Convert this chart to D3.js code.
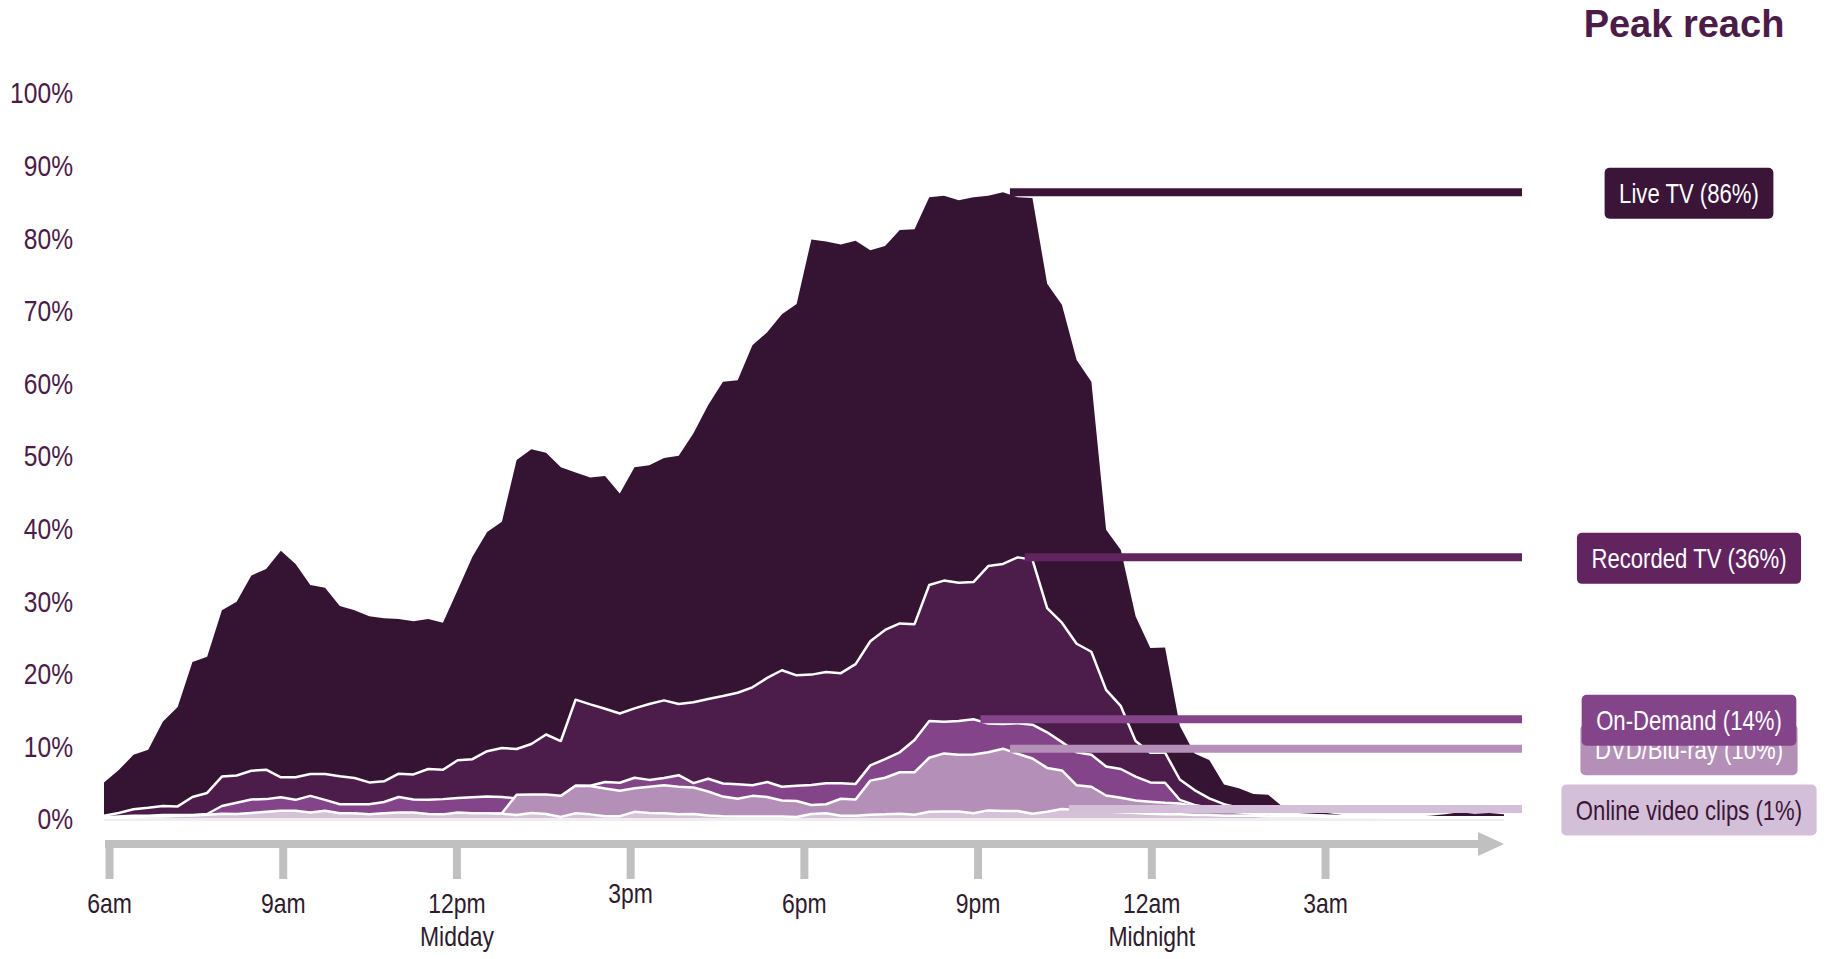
<!DOCTYPE html>
<html><head><meta charset="utf-8">
<script src="https://cdn.jsdelivr.net/npm/d3@7"></script>
<style>
html,body{margin:0;padding:0;background:#fff;}
svg{display:block;}
</style></head>
<body>
<svg id="chart" width="1835" height="959"></svg>
<script>
// ---------------- DATA ----------------
const seriesNames = ["Live TV", "Recorded TV", "On-Demand", "DVD/Blu-ray", "Online video clips"];
const peakLabels = [86, 36, 14, 10, 1];
// quarter-hour slots from 6:00am to 5:45am next day, as hours after 6am
const slotHours = d3.range(96).map(i => i * 0.25);

const liveTV = [4.9, 6.6, 8.7, 9.4, 13.3, 15.3, 21.5, 22.2, 28.6, 29.8,
  33.4, 34.3, 36.8, 35.0, 32.1, 31.7, 29.2, 28.6, 27.8, 27.5,
  27.4, 27.1, 27.4, 26.9, 31.4, 36.0, 39.4, 40.8, 49.3, 50.8,
  50.3, 48.3, 47.6, 46.9, 47.1, 44.7, 48.3, 48.6, 49.6, 49.9,
  53.0, 56.9, 60.1, 60.3, 65.1, 66.9, 69.4, 70.8, 79.7, 79.4,
  79.0, 79.5, 78.2, 78.8, 81.0, 81.1, 85.5, 85.7, 85.1, 85.5,
  85.7, 86.2, 85.5, 85.4, 73.6, 70.7, 63.1, 60.1, 39.7, 36.9,
  27.8, 23.4, 23.5, 12.7, 8.9, 8.0, 4.6, 4.1, 3.3, 3.2,
  1.5, 1.2, 0.9, 0.7, 0.4, 0.2, 0.2, 0.1, 0.2, 0.2,
  0.3, 0.5, 0.8, 0.6, 0.7, 0.5];

const recordedTV = [0.3, 0.7, 1.2, 1.4, 1.65, 1.6, 2.9, 3.45, 5.7, 5.85,
  6.5, 6.65, 5.6, 5.6, 6.05, 6.05, 5.75, 5.5, 4.9, 5.05,
  6.1, 6.0, 6.75, 6.65, 7.95, 8.1, 9.2, 9.65, 9.5, 10.2,
  11.5, 10.6, 16.3, 15.65, 15.05, 14.4, 15.1, 15.7, 16.2, 15.7,
  15.95, 16.4, 16.8, 17.25, 18.0, 19.3, 20.35, 19.65, 19.75, 20.1,
  19.95, 21.2, 24.35, 25.9, 26.8, 26.7, 32.1, 32.7, 32.4, 32.5,
  34.7, 35.0, 35.9, 35.6, 28.9, 26.9, 24.0, 22.9, 17.65, 15.4,
  10.6, 9.0, 9.0, 5.3, 3.85, 2.7, 1.9, 1.4, 1.0, 0.8,
  0.6, 0.5, 0.4, 0.3, 0.25, 0.2, 0.2, 0.15, 0.15, 0.1,
  0.1, 0.1, 0.1, 0.1, 0.1, 0.1];

const onDemand = [0.1, 0.2, 0.3, 0.3, 0.4, 0.4, 0.4, 0.55, 1.65, 2.1,
  2.55, 2.6, 2.85, 2.5, 3.05, 2.5, 1.9, 1.9, 1.9, 2.2,
  2.9, 2.55, 2.5, 2.6, 2.75, 2.85, 2.95, 2.9, 2.7, 2.8,
  2.9, 3.0, 4.45, 4.45, 4.95, 4.85, 5.55, 5.25, 5.5, 5.9,
  4.8, 5.4, 4.75, 4.65, 4.5, 4.95, 4.3, 4.45, 4.55, 4.8,
  4.8, 4.7, 7.25, 8.1, 9.05, 10.75, 13.35, 13.25, 13.35, 13.6,
  13.0, 12.95, 13.05, 12.85, 11.8, 10.45, 9.05, 8.7, 7.1, 6.75,
  5.7, 4.9, 4.85, 2.5, 1.8, 1.4, 1.1, 0.9, 0.7, 0.6,
  0.5, 0.4, 0.35, 0.3, 0.25, 0.2, 0.2, 0.15, 0.15, 0.1,
  0.1, 0.1, 0.1, 0.1, 0.1, 0.1];

const dvdBluray = [0.05, 0.05, 0.1, 0.1, 0.15, 0.2, 0.2, 0.25, 0.3, 0.3,
  0.35, 0.4, 0.45, 0.45, 0.4, 0.45, 0.4, 0.4, 0.35, 0.4,
  0.45, 0.45, 0.4, 0.4, 0.45, 0.45, 0.5, 0.65, 3.2, 3.25,
  3.25, 3.05, 4.45, 4.4, 4.05, 3.75, 4.1, 4.3, 4.5, 4.3,
  4.2, 3.65, 2.95, 2.65, 3.05, 2.9, 2.4, 2.35, 1.8, 1.9,
  2.65, 2.55, 5.15, 5.55, 6.3, 6.3, 8.3, 8.9, 8.7, 8.75,
  9.05, 9.55, 8.85, 8.2, 6.9, 6.55, 4.5, 4.3, 3.1, 2.8,
  2.4, 2.25, 2.1, 2.0, 1.6, 1.3, 1.0, 0.8, 0.6, 0.5,
  0.4, 0.3, 0.3, 0.25, 0.2, 0.2, 0.15, 0.15, 0.1, 0.1,
  0.1, 0.1, 0.1, 0.1, 0.1, 0.1];

const onlineClips = [0.05, 0.1, 0.15, 0.2, 0.2, 0.3, 0.35, 0.45, 0.6, 0.55,
  0.7, 0.85, 1.0, 1.0, 0.75, 1.0, 0.65, 0.65, 0.5, 0.65,
  0.75, 0.75, 0.55, 0.5, 0.75, 0.65, 0.65, 0.6, 0.4, 0.7,
  0.55, 0.15, 0.65, 0.5, 0.25, 0.25, 0.85, 0.7, 0.65, 0.5,
  0.55, 0.35, 0.25, 0.2, 0.2, 0.2, 0.2, 0.15, 0.55, 0.65,
  0.3, 0.3, 0.45, 0.5, 0.6, 0.45, 0.85, 0.9, 0.9, 0.65,
  1.05, 0.95, 0.95, 0.6, 0.85, 1.25, 1.1, 1.0, 0.9, 0.8,
  0.7, 0.6, 0.5, 0.5, 0.4, 0.4, 0.3, 0.3, 0.3, 0.2,
  0.2, 0.2, 0.2, 0.15, 0.15, 0.1, 0.1, 0.1, 0.1, 0.1,
  0.1, 0.1, 0.1, 0.05, 0.05, 0.05];

const yTickValues = [0, 10, 20, 30, 40, 50, 60, 70, 80, 90, 100];
const xTickHours = [0, 3, 6, 9, 12, 15, 18, 21];
const xTickLabels = [["6am"], ["9am"], ["12pm", "Midday"], ["3pm"], ["6pm"], ["9pm"], ["12am", "Midnight"], ["3am"]];

const seriesValues = [liveTV, recordedTV, onDemand, dvdBluray, onlineClips];

// ---------------- STYLE ----------------
const areaColors = ["#351433", "#4c1d4b", "#84448a", "#b490b8", "#d5c2d9"];
const markerColors = ["#3b1538", "#62245f", "#84448a", "#b48fb8", "#d4bfd8"];
const boxTextColors = ["#ffffff", "#ffffff", "#ffffff", "#ffffff", "#3b1538"];

function fontAvailable(name) {
  const c = document.createElement("canvas").getContext("2d");
  const s = "abcdefghijklmnopqrstuvwxyz 0123456789%";
  c.font = "40px monospace";
  const w0 = c.measureText(s).width;
  c.font = `40px "${name}", monospace`;
  const w1 = c.measureText(s).width;
  return Math.abs(w0 - w1) > 0.5;
}
const hasNarrow = fontAvailable("Liberation Sans Narrow");
const narrowFamily = hasNarrow ? "'Liberation Sans Narrow', 'Arial Narrow', sans-serif" : "'Liberation Sans', Arial, sans-serif";
const narrowScale = hasNarrow ? 1 : 0.82;
function narrowize(sel) {
  sel.style("font-family", narrowFamily);
  if (narrowScale !== 1) sel.attr("transform", `scale(${narrowScale},1)`);
}

// ---------------- SCALES ----------------
const svg = d3.select("#chart");
const x = d3.scaleLinear().domain([0, 23.75]).range([104, 1504]);
const xAxisScale = d3.scaleLinear().domain([0, 21]).range([109, 1325]);
const y = d3.scaleLinear().domain([0, 100]).range([818, 92]);

// baseline band
svg.append("rect")
  .attr("x", x(0)).attr("y", y(0)).attr("width", x(23.75) - x(0)).attr("height", 3)
  .attr("fill", "#efefef");

// ---------------- AREAS ----------------
const area = d3.area()
  .x((d, i) => x(slotHours[i]))
  .y0(y(0))
  .y1(d => y(d));
const topLine = d3.line()
  .x((d, i) => x(slotHours[i]))
  .y(d => y(d));

const gAreas = svg.append("g");
seriesValues.forEach((vals, s) => {
  gAreas.append("path").datum(vals)
    .attr("d", area)
    .attr("fill", areaColors[s]);
  if (s > 0) {
    gAreas.append("path").datum(vals)
      .attr("d", topLine)
      .attr("fill", "none")
      .attr("stroke", "#ffffff")
      .attr("stroke-width", 2.5)
      .attr("stroke-linejoin", "round");
  }
});

// ---------------- X AXIS ----------------
const axisY = 840;
svg.append("rect")
  .attr("x", xAxisScale(0) - 4).attr("y", axisY)
  .attr("width", 1480 - (xAxisScale(0) - 4)).attr("height", 8)
  .attr("fill", "#c0c0c0");
svg.append("path")
  .attr("d", `M1478,832 L1504,844 L1478,856 Z`)
  .attr("fill", "#c0c0c0");

const xAxis = d3.axisBottom(xAxisScale)
  .tickValues(xTickHours)
  .tickSize(39)
  .tickFormat("");
const gx = svg.append("g").attr("transform", `translate(0,${axisY})`).call(xAxis);
gx.select(".domain").remove();
gx.selectAll(".tick line").attr("stroke", "#c0c0c0").attr("stroke-width", 8);
gx.selectAll(".tick text").remove();
gx.selectAll(".tick").each(function(d, i) {
  const g = d3.select(this);
  const lines = xTickLabels[i];
  const raise = lines[0] === "3pm" ? -10 : 0;
  lines.forEach((txt, k) => {
    const t = g.append("text")
      .attr("x", 0)
      .attr("y", 73 + raise + k * 33)
      .attr("text-anchor", "middle")
      .attr("fill", "#2e1b2e")
      .style("font-size", "28px")
      .text(txt);
    narrowize(t);
  });
});

// ---------------- Y AXIS ----------------
const yAxis = d3.axisLeft(y)
  .tickValues(yTickValues)
  .tickSize(0)
  .tickPadding(0)
  .tickFormat(d => d + "%");
const gy = svg.append("g").attr("transform", "translate(73,0)").call(yAxis);
gy.select(".domain").remove();
gy.selectAll(".tick text")
  .attr("fill", "#4b1c47")
  .attr("dy", "0.36em")
  .style("font-size", "30px")
  .each(function() { narrowize(d3.select(this)); });

// ---------------- PEAK MARKERS ----------------
const lineEnd = 1522;
const peaks = seriesValues.map(vals => {
  const idx = d3.maxIndex(vals);
  return { idx, value: vals[idx] };
});
const gMarks = svg.append("g");
peaks.forEach((p, s) => {
  gMarks.append("line")
    .attr("x1", x(slotHours[p.idx]) + 7).attr("x2", lineEnd)
    .attr("y1", y(p.value)).attr("y2", y(p.value))
    .attr("stroke", markerColors[s]).attr("stroke-width", 8);
});

const boxCx = 1689;
const boxOrder = [0, 1, 3, 2, 4];
boxOrder.forEach(s => {
  const cy = y(peaks[s].value) + 1;
  const g = svg.append("g").attr("transform", `translate(${boxCx},${cy})`);
  const rect = g.append("rect").attr("fill", markerColors[s]).attr("rx", 5).attr("ry", 5);
  const tg = g.append("g").attr("transform", "translate(0,9.7)");
  const t = tg.append("text")
    .attr("text-anchor", "middle")
    .attr("fill", boxTextColors[s])
    .style("font-size", "27px")
    .text(`${seriesNames[s]} (${peakLabels[s]}%)`);
  narrowize(t);
  const w = t.node().getComputedTextLength() * narrowScale + 29;
  rect.attr("x", -w / 2).attr("y", -25.5).attr("width", w).attr("height", 51);
});

// ---------------- TITLE ----------------
svg.append("text")
  .attr("x", 1684).attr("y", 37)
  .attr("text-anchor", "middle")
  .attr("fill", "#4b1c47")
  .style("font-family", "'Liberation Sans', Arial, sans-serif")
  .style("font-weight", "bold")
  .style("font-size", "38px")
  .text("Peak reach");
</script>
</body></html>
